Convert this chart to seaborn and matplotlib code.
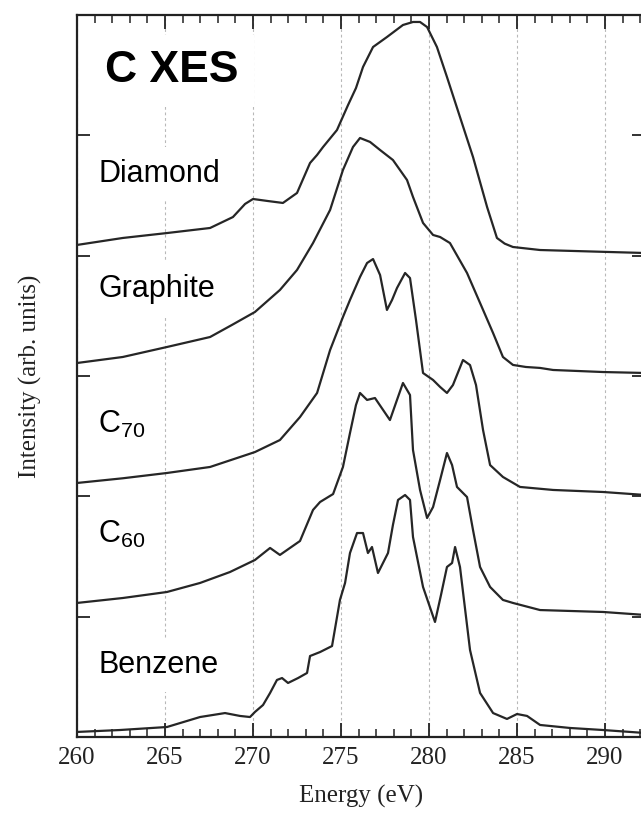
import numpy as np
import pandas as pd
import matplotlib
matplotlib.use("Agg")
import matplotlib.pyplot as plt
from matplotlib.ticker import MultipleLocator
import seaborn as sns

# ---- Spectra: emission energy (eV) and normalised intensity per sample ----
diamond_e = [260.0, 262.6, 265.11, 267.56, 268.86, 269.55, 270.0, 270.85, 271.7, 272.5,
             273.24, 273.64, 273.98, 274.77, 275.4, 275.85, 276.25, 276.82, 277.61, 278.52,
             279.09, 279.49, 279.89, 280.45, 281.02, 281.76, 282.5, 283.3, 283.86, 284.3,
             284.77, 286.31, 290.11, 292.3]
diamond_i = [0.089, 0.147, 0.188, 0.230, 0.321, 0.430, 0.471, 0.454, 0.438, 0.521,
             0.770, 0.837, 0.903, 1.044, 1.252, 1.393, 1.568, 1.734, 1.817, 1.917,
             1.942, 1.942, 1.900, 1.734, 1.485, 1.152, 0.820, 0.404, 0.147, 0.100,
             0.072, 0.047, 0.031, 0.022]

graphite_e = [260.0, 262.6, 265.11, 267.56, 268.8, 270.11, 271.53, 272.5, 273.41, 274.38,
              275.11, 275.68, 276.08, 276.65, 277.22, 277.95, 278.75, 279.09, 279.66, 280.23,
              280.63, 281.19, 282.16, 282.9, 283.64, 284.2, 284.77, 285.5, 286.31, 287.05,
              289.89, 292.3]
graphite_i = [0.108, 0.158, 0.241, 0.324, 0.424, 0.532, 0.715, 0.881, 1.105, 1.380,
              1.712, 1.903, 1.978, 1.945, 1.878, 1.795, 1.629, 1.488, 1.272, 1.172,
              1.155, 1.105, 0.856, 0.607, 0.357, 0.158, 0.092, 0.075, 0.067, 0.050,
              0.033, 0.025]

c70_e = [260.0, 262.6, 265.11, 267.56, 270.11, 271.53, 272.67, 273.64, 274.38, 275.11,
         275.51, 276.08, 276.48, 276.82, 277.22, 277.61, 277.9, 278.18, 278.64, 278.92,
         279.26, 279.66, 280.23, 280.63, 281.02, 281.36, 281.93, 282.33, 282.67, 283.07,
         283.47, 284.2, 285.17, 287.05, 289.89, 292.3]
c70_i = [0.111, 0.150, 0.194, 0.244, 0.368, 0.468, 0.659, 0.859, 1.216, 1.490,
         1.632, 1.823, 1.939, 1.972, 1.839, 1.549, 1.632, 1.731, 1.856, 1.814,
         1.466, 1.025, 0.967, 0.909, 0.859, 0.925, 1.133, 1.091, 0.925, 0.551,
         0.260, 0.161, 0.078, 0.053, 0.036, 0.011]

c60_e = [260.0, 262.6, 265.11, 266.99, 268.69, 270.11, 270.97, 271.53, 272.67, 273.41,
         273.81, 274.55, 275.11, 275.51, 275.85, 276.08, 276.48, 276.93, 277.39, 277.78,
         278.18, 278.52, 278.92, 279.09, 279.49, 279.89, 280.23, 280.63, 281.02, 281.31,
         281.59, 282.16, 282.5, 282.9, 283.47, 284.2, 284.77, 286.31, 289.89, 292.3]
c60_i = [0.114, 0.155, 0.205, 0.280, 0.371, 0.471, 0.571, 0.513, 0.629, 0.887,
         0.953, 1.019, 1.244, 1.526, 1.759, 1.859, 1.801, 1.817, 1.718, 1.634,
         1.801, 1.942, 1.842, 1.385, 1.053, 0.820, 0.911, 1.136, 1.360, 1.260,
         1.078, 0.994, 0.720, 0.413, 0.247, 0.139, 0.114, 0.055, 0.039, 0.014]

benzene_e = [260.0, 262.44, 265.11, 266.99, 268.41, 269.26, 269.83, 270.11, 270.57, 270.97,
             271.36, 271.65, 271.99, 272.56, 273.07, 273.24, 273.81, 274.49, 274.94, 275.23,
             275.51, 275.91, 276.25, 276.53, 276.76, 277.1, 277.67, 277.95, 278.24, 278.64,
             278.92, 279.09, 279.66, 280.34, 280.68, 281.02, 281.31, 281.48, 281.76, 282.33,
             282.9, 283.64, 284.43, 285.0, 285.57, 286.31, 288.01, 289.89, 292.3]
benzene_i = [0.042, 0.058, 0.083, 0.166, 0.199, 0.175, 0.166, 0.208, 0.266, 0.366,
             0.474, 0.490, 0.449, 0.490, 0.532, 0.673, 0.706, 0.756, 1.139, 1.280,
             1.529, 1.695, 1.695, 1.529, 1.579, 1.363, 1.529, 1.762, 1.970, 2.011,
             1.970, 1.662, 1.247, 0.956, 1.180, 1.413, 1.446, 1.579, 1.413, 0.723,
             0.366, 0.199, 0.150, 0.191, 0.175, 0.100, 0.075, 0.058, 0.033]

samples = ["Diamond", "Graphite", "C$_{70}$", "C$_{60}$", "Benzene"]
offsets = [4, 3, 2, 1, 0]
energies = [diamond_e, graphite_e, c70_e, c60_e, benzene_e]
intensities = [diamond_i, graphite_i, c70_i, c60_i, benzene_i]

frames = []
for name, off, e, i in zip(samples, offsets, energies, intensities):
    frames.append(pd.DataFrame({"energy": e,
                                "signal": np.asarray(i) + off,
                                "sample": name}))
spectra = pd.concat(frames, ignore_index=True)

# ---- Styling ----
sns.set_theme(style="ticks")
plt.rcParams["font.family"] = ["Liberation Serif", "DejaVu Serif"]
plt.rcParams["mathtext.default"] = "regular"

W, H = 641, 815
fig = plt.figure(figsize=(W / 100, H / 100), dpi=100)
left_px, right_px, top_px, bottom_px = 77, 645.5, 15, 737
ax = fig.add_axes([left_px / W, (H - bottom_px) / H,
                   (right_px - left_px) / W, (bottom_px - top_px) / H])

line_col = "#262626"
sns.lineplot(data=spectra, x="energy", y="signal", hue="sample",
             palette={s: line_col for s in samples}, estimator=None, sort=False,
             legend=False, linewidth=1.6, ax=ax, zorder=3)

ax.set_xlim(260, 292.3)
ax.set_ylim(0, 6)

ax.xaxis.set_major_locator(MultipleLocator(5))
ax.xaxis.set_minor_locator(MultipleLocator(1))
ax.yaxis.set_major_locator(MultipleLocator(1))
ax.tick_params(axis="x", which="major", direction="in", top=True, bottom=True,
               length=10, width=1.3, labelsize=18, pad=7, colors="#222222")
ax.tick_params(axis="x", which="minor", direction="in", top=True, bottom=True,
               length=5.5, width=1.1, colors="#222222")
ax.tick_params(axis="y", which="major", direction="in", left=True, right=True,
               length=9.5, width=1.3, labelleft=False, colors="#222222")

for s in ax.spines.values():
    s.set_linewidth(1.6)
    s.set_color("#222222")

ax.grid(axis="x", which="major", linestyle=(0, (2.5, 2.5)), color="#b8b8b8",
        linewidth=0.8, zorder=0)
ax.set_axisbelow(True)

ax.set_xlabel("Energy (eV)", fontsize=18, labelpad=12, color="#222222")
ax.set_ylabel("Intensity (arb. units)", fontsize=18, labelpad=25, color="#222222")

# ---- Sample labels ----
box = dict(boxstyle="square,pad=0.4", facecolor="white", edgecolor="none")
label_y = [4.61, 3.66, 2.53, 1.61, 0.53]
for name, yb in zip(samples, label_y):
    ax.text(261.2, yb, name, fontsize=22, family=["Liberation Sans", "DejaVu Sans"],
            ha="left", va="baseline", color="black", bbox=box, zorder=2)

ax.text(261.6, 5.44, "C XES", fontsize=32, fontweight="bold",
        family=["Liberation Sans", "DejaVu Sans"], ha="left", va="baseline",
        color="black", bbox=dict(boxstyle="square,pad=0.35", facecolor="white",
                                 edgecolor="none"), zorder=2)

fig.savefig("out.png", dpi=100, facecolor="white")
